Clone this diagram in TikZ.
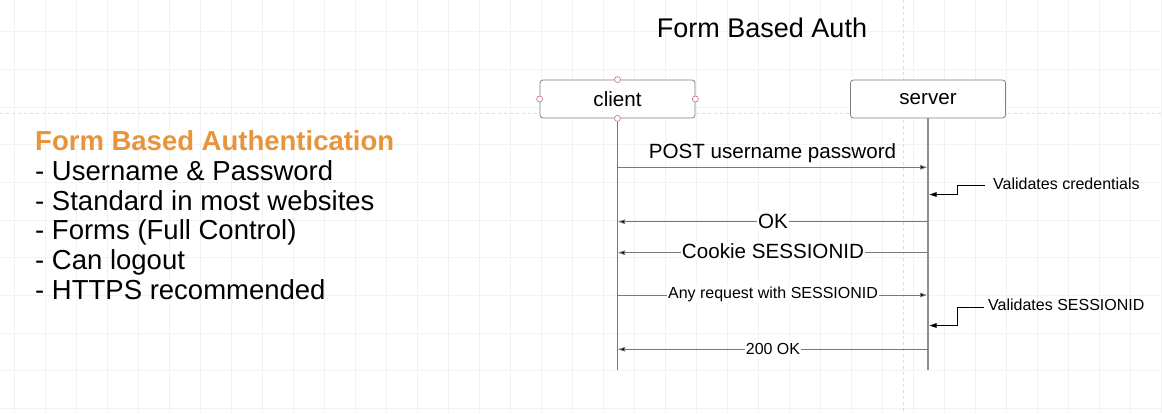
\documentclass[tikz,border=0pt]{standalone}
\usepackage{fontspec}
\setmainfont{Liberation Sans}
\usetikzlibrary{arrows.meta}
\definecolor{gridc}{RGB}{242,242,242}
\definecolor{guidec}{RGB}{220,220,220}
\definecolor{boxc}{RGB}{128,128,128}
\definecolor{linec}{RGB}{120,120,120}
\definecolor{orangec}{RGB}{232,148,58}
\definecolor{dotc}{RGB}{200,110,120}
\tikzset{
  actor/.style={draw=boxc, line width=0.8pt, rounded corners=3pt, fill=white,
    minimum width=155pt, minimum height=38pt, inner sep=0pt, font=\fontsize{20.6}{24}\selectfont},
  lifeline/.style={draw=linec, line width=0.8pt},
  msg/.style={draw=linec, line width=0.8pt, arrows={-{Triangle[length=7pt,width=4.5pt,fill=black]}}},
  biglabel/.style={font=\fontsize{20.6}{24}\selectfont, inner sep=1pt},
  smalllabel/.style={font=\fontsize{16}{19}\selectfont, inner sep=1pt},
  onlinelabel/.style={fill=white, inner sep=1pt},
  listline/.style={anchor=base west, inner sep=0pt, font=\fontsize{27.5}{30}\selectfont},
  handle/.style={circle, draw=dotc, fill=white, line width=0.6pt, minimum size=6pt, inner sep=0pt},
}
\begin{document}
\begin{tikzpicture}[x=1pt,y=-1pt]
\useasboundingbox (0,0) rectangle (1162,413);
\fill[white] (0,0) rectangle (1162,413);
% faint background grid
\foreach \gx in {14,45,76,107,138,169,200,231,262,293,324,355,386,417,448,479,510,541,572,603,634,665,696,727,758,789,820,851,882,913,944,975,1006,1037,1068,1099,1130,1161}
  \draw[gridc, line width=0.5pt] (\gx,0) -- (\gx,413);
\foreach \gy in {31.4,69.1,106.8,144.5,182.2,219.9,257.6,295.3,333,370.7,408.4}
  \draw[gridc, line width=0.5pt] (0,\gy) -- (1162,\gy);
% guide lines
\draw[guidec, dashed, line width=0.6pt] (903,0) -- (903,413);
\draw[guidec, dashed, line width=0.6pt] (0,113) -- (1162,113);

% title
\node[font=\fontsize{27}{30}\selectfont, anchor=base, inner sep=0pt] (title) at (762,37) {Form Based Auth};

% left text
\node[listline, font=\fontsize{27.5}{30}\selectfont\bfseries, text=orangec] (h) at (35,150.5) {Form Based Authentication};
\node[listline] (l1) at (35,180.5) {- Username \& Password};
\node[listline] (l2) at (35,210.2) {- Standard in most websites};
\node[listline] (l3) at (35,239.8) {- Forms (Full Control)};
\node[listline] (l4) at (35,269.5) {- Can logout};
\node[listline] (l5) at (35,299.2) {- HTTPS recommended};

% actors
\node[actor] (client) at (617.5,99) {client};
\node[actor] (server) at (928,99) {server};
\coordinate (cend) at (617.5,370);
\coordinate (send) at (928,370);
\draw[lifeline] (client.south) -- (cend);
\draw[lifeline, line width=1.6pt, draw=boxc!90] (server.south) -- (send);

% handles on client box
\node[handle] (hn) at (client.north) {};
\node[handle] (hs) at (client.south) {};
\node[handle] (hw) at (client.west) {};
\node[handle] (he) at (client.east) {};

% message anchor points
\coordinate (c1) at (617.5,167.3);  \coordinate (s1) at (927,167.3);
\coordinate (c2) at (618,221.7);    \coordinate (s2) at (928,221.7);
\coordinate (c3) at (618,252.7);    \coordinate (s3) at (928,252.7);
\coordinate (c4) at (617.5,295);    \coordinate (s4) at (927,295);
\coordinate (c5) at (618,349.3);    \coordinate (s5) at (928,349.3);
\coordinate (v1) at (929.5,194.5);
\coordinate (v2) at (929.5,325.5);

% messages
\draw[msg] (c1) -- (s1);
\node[biglabel, anchor=base] (m1) at (772.5,158.7) {POST username password};
\draw[msg] (s2) -- (c2);
\node[biglabel, onlinelabel] (m2) at (773,221.7) {OK};
\draw[msg] (s3) -- (c3);
\node[biglabel, onlinelabel] (m3) at (773,251.5) {Cookie SESSIONID};
\draw[msg] (c4) -- (s4);
\node[smalllabel, onlinelabel] (m4) at (773,294.5) {Any request with SESSIONID};
\draw[msg] (s5) -- (c5);
\node[smalllabel, onlinelabel] (m5) at (773,348.5) {200 OK};

% self notes
\node[smalllabel, anchor=west, inner sep=0pt] (vc) at (993,184) {Validates credentials};
\draw[msg, draw=black] (vc.west) ++(-8,1) -- ++(-28,0) |- (v1);
\node[smalllabel, anchor=west, inner sep=0pt] (vs) at (988,305) {Validates SESSIONID};
\draw[msg, draw=black] (vs.west) ++(-4,2) -- ++(-27,0) |- (v2);
\end{tikzpicture}
\end{document}
